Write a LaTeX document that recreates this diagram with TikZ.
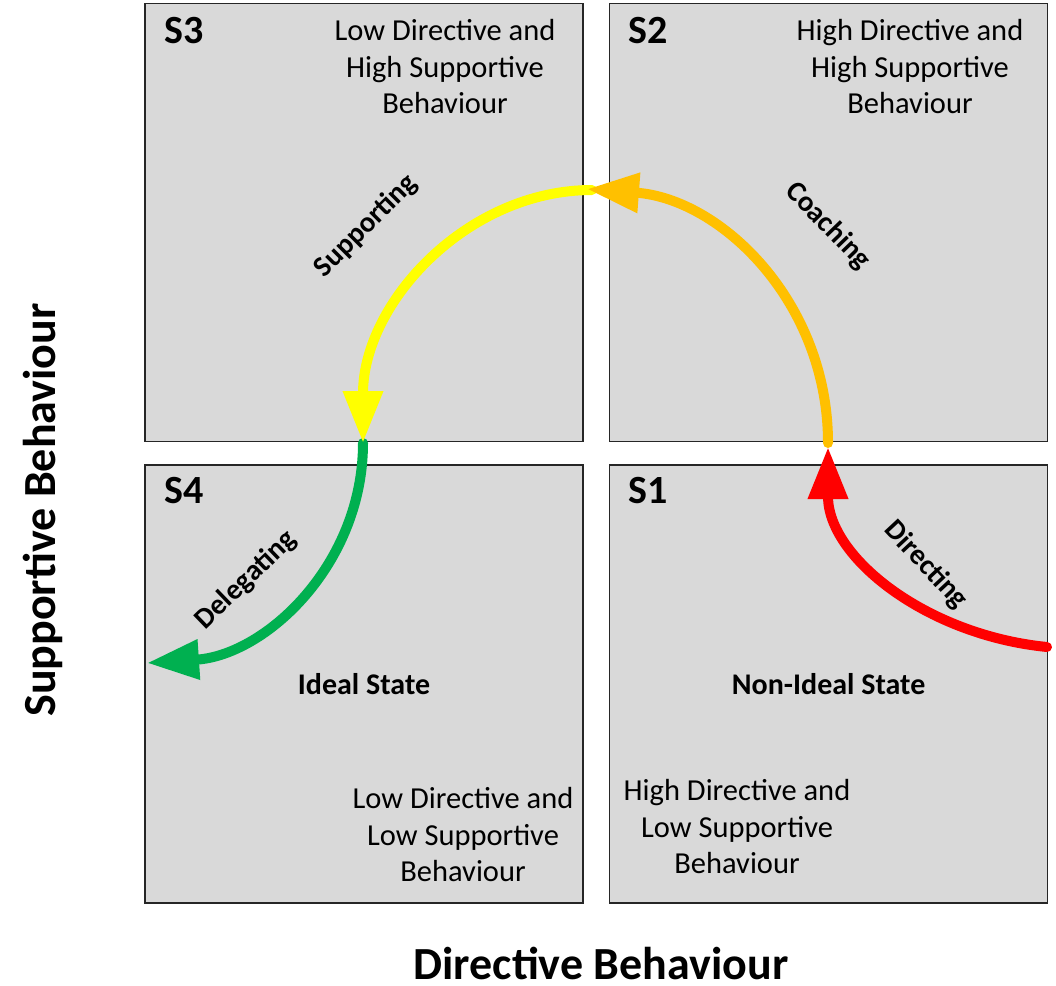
\documentclass[tikz,border=0pt]{standalone}
\usepackage{fontspec}
\setmainfont{Carlito}
\usetikzlibrary{positioning, arrows.meta, calc}

\definecolor{boxgray}{HTML}{D9D9D9}
\definecolor{dirred}{HTML}{FF0000}
\definecolor{coachorange}{HTML}{FFC000}
\definecolor{suppyellow}{HTML}{FFFF00}
\definecolor{delgreen}{HTML}{00B050}

\begin{document}
\begin{tikzpicture}[x=1pt,y=-1pt,
    quad/.style={draw=black!85, line width=1.6pt, fill=boxgray, minimum size=438pt, inner sep=0pt,
      font=\bfseries\fontsize{30}{34}\selectfont},
    tag/.style={font=\bfseries\fontsize{40}{44}\selectfont},
    desc/.style={align=center, font=\fontsize{30.5}{36.5}\selectfont},
    move/.style={inner sep=0pt, font=\bfseries\fontsize{29}{32}\selectfont},
    axis/.style={inner sep=0pt, font=\bfseries\fontsize{46}{50}\selectfont},
    flow/.style={line width=10pt, line cap=round, -{Triangle[width=38pt,length=52pt]}}]
    \useasboundingbox (0,0) rectangle (1056,985);

    % the four quadrants
    \node[quad] (s4) at (364,684) {Ideal State};
    \node[quad] (s1) [right=25pt of s4] {Non-Ideal State};
    \node[quad] (s3) [above=22pt of s4] {};
    \node[quad] (s2) [above=22pt of s1] {};

    \node[tag] (t3) at (184,31) {S3};
    \node[tag] (t2) at (648,31) {S2};
    \node[tag] (t4) at (184,491) {S4};
    \node[tag] (t1) at (648,491) {S1};

    \node[desc] (d3) at (445,67) {Low Directive and\\High Supportive\\Behaviour};
    \node[desc] (d2) at (910,67) {High Directive and\\High Supportive\\Behaviour};
    \node[desc] (d4) at (463,835) {Low Directive and\\Low Supportive\\Behaviour};
    \node[desc] (d1) at (737,827) {High Directive and\\Low Supportive\\Behaviour};

    \node[axis] (xlab) at (601,963) {Directive Behaviour};
    \node[axis, rotate=90] (ylab) at (43,510) {Supportive Behaviour};

    % ends of the arrows
    \coordinate (r0) at (1047,647);
    \coordinate (r1) at (828,447);
    \coordinate (o0) at (828,443);
    \coordinate (o1) at (587,189);
    \coordinate (y0) at (592,190);
    \coordinate (y1) at (363,443);
    \coordinate (g0) at (363,443);
    \coordinate (g1) at (147,663);

    \draw[flow, delgreen] (g0) .. controls +(0,121) and +(119,-8) .. (g1);
    \draw[flow, suppyellow] (y0) .. controls +(-125,0) and +(0,-140) .. (y1);
    \draw[flow, dirred] (r0) .. controls +(-121,-12) and +(0,110) .. (r1);
    \draw[flow, coachorange] (o0) .. controls +(0,-141) and +(134,10) .. (o1);

    \node[move, rotate=45] (lsup) at (366,226) {Supporting};
    \node[move, rotate=-46] (lcoa) at (828,226) {Coaching};
    \node[move, rotate=44] (ldel) at (246,580) {Delegating};
    \node[move, rotate=-47] (ldir) at (926,565) {Directing};
\end{tikzpicture}
\end{document}
